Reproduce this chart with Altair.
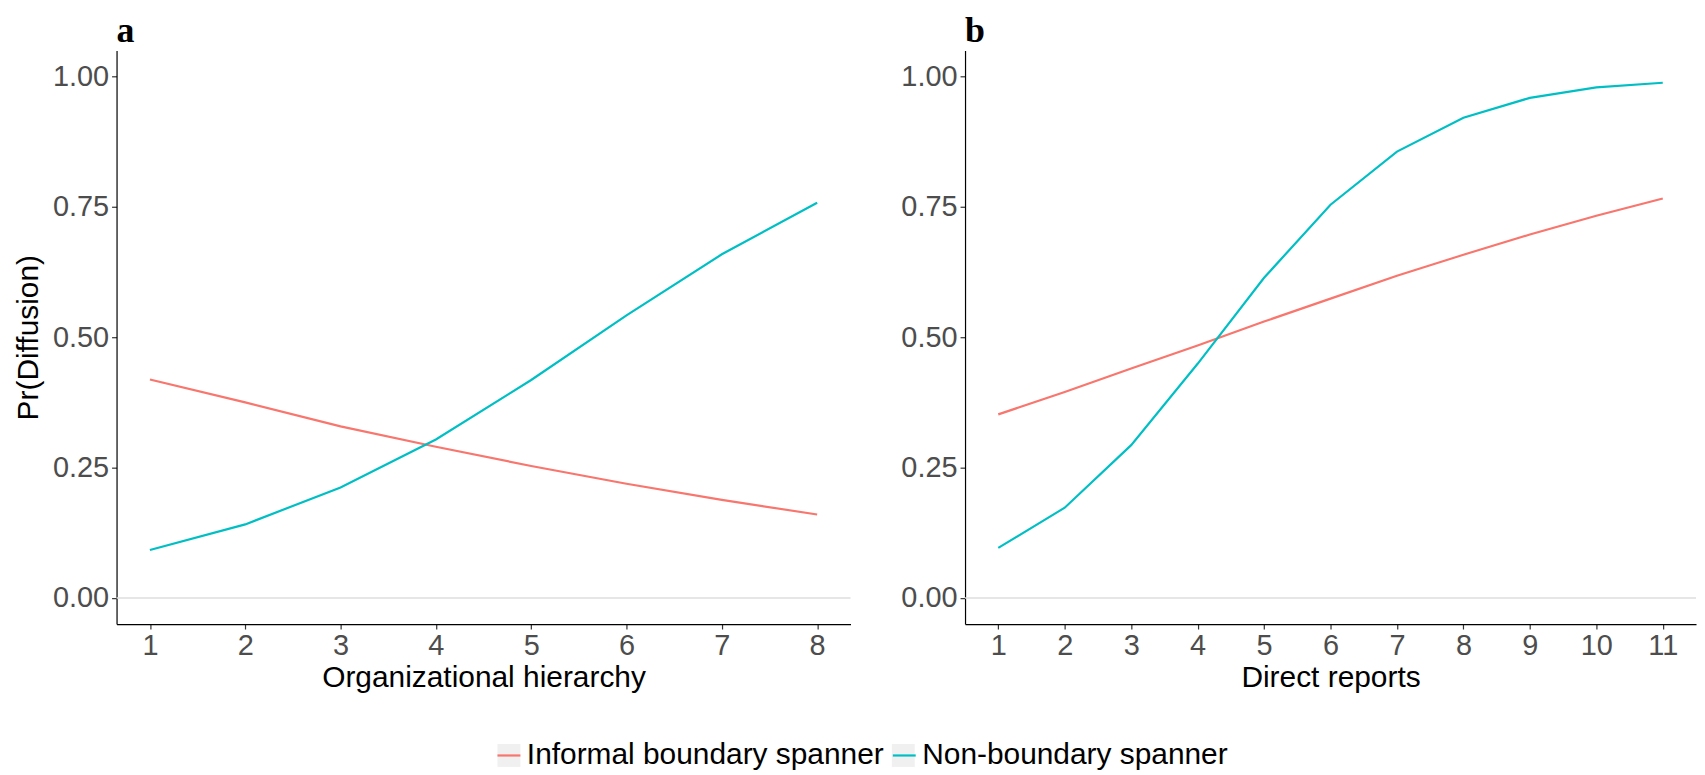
import altair as alt
import pandas as pd

# ---- data ----
hierarchy = [1, 2, 3, 4, 5, 6, 7, 8]
hier_informal = [0.419, 0.375, 0.329, 0.290, 0.253, 0.219, 0.188, 0.160]
hier_non = [0.092, 0.141, 0.212, 0.304, 0.418, 0.542, 0.659, 0.758]

reports = [1, 2, 3, 4, 5, 6, 7, 8, 9, 10, 11]
rep_informal = [0.352, 0.395, 0.440, 0.484, 0.530, 0.574, 0.618, 0.658, 0.697, 0.733, 0.766]
rep_non = [0.096, 0.173, 0.293, 0.449, 0.614, 0.754, 0.856, 0.921, 0.959, 0.979, 0.988]

groups = ["Informal boundary spanner", "Non-boundary spanner"]
colors = ["#F8766D", "#00BFC4"]
y_ticks = [0, 0.25, 0.5, 0.75, 1.0]

df_a = pd.DataFrame({
    "x": hierarchy * 2,
    "y": hier_informal + hier_non,
    "group": [groups[0]] * len(hierarchy) + [groups[1]] * len(hierarchy),
})
df_a["key"] = df_a["group"]
df_b = pd.DataFrame({
    "x": reports * 2,
    "y": rep_informal + rep_non,
    "group": [groups[0]] * len(reports) + [groups[1]] * len(reports),
})

FONT = "Liberation Sans"
LEG_X, LEG_Y = 379, 693

stroke_scale = alt.Scale(domain=groups, range=colors)
key_scale = alt.Scale(range=["#f0f0f0", "#f0f0f0"])

line_legend = alt.Legend(
    title=None, orient="none", direction="horizontal",
    legendX=LEG_X, legendY=LEG_Y,
    symbolType="stroke", symbolSize=529, symbolStrokeWidth=2.2,
    labelFont=FONT, labelFontSize=30, labelColor="black",
    columnPadding=4, labelOffset=3, labelLimit=500,
)
key_legend = alt.Legend(
    title=None, orient="none", direction="horizontal",
    legendX=LEG_X, legendY=LEG_Y,
    symbolType="square", symbolSize=529, symbolStrokeWidth=0, symbolOpacity=1,
    labelFont=FONT, labelFontSize=30, labelColor="transparent",
    columnPadding=4, labelOffset=3, labelLimit=500,
)

YSCALE = alt.Scale(domain=[-0.05, 1.05], nice=False, zero=False)


def panel(df, xvals, xdomain, xtitle, letter, ytitle, width, with_key):
    zero = alt.Chart(pd.DataFrame({"z": [0]})).mark_rule(
        color="#dedede", strokeWidth=1.5
    ).encode(y=alt.Y("z:Q", scale=YSCALE))
    if ytitle:
        yaxis = alt.Axis(values=y_ticks, format=".2f", title=ytitle, grid=False, titlePadding=9)
    else:
        yaxis = alt.Axis(values=y_ticks, format=".2f", title=None, grid=False)
    lines = alt.Chart(df).mark_line(strokeWidth=2.2).encode(
        x=alt.X("x:Q", scale=alt.Scale(domain=xdomain, nice=False, zero=False),
                axis=alt.Axis(values=xvals, format="d", title=xtitle, grid=False)),
        y=alt.Y("y:Q", scale=YSCALE, axis=yaxis),
        stroke=alt.Stroke("group:N", scale=stroke_scale, legend=line_legend),
    )
    layers = [zero, lines]
    if with_key:
        keys = alt.Chart(df).mark_square(opacity=0, size=1).encode(
            x="x:Q", y="y:Q",
            fill=alt.Fill("key:N", scale=key_scale, legend=key_legend),
        )
        layers = [zero, keys, lines]
    return alt.layer(*layers).properties(
        width=width, height=576,
        title=alt.TitleParams(letter, anchor="start", frame="group",
                              font="Liberation Serif", fontWeight="bold",
                              fontSize=36, color="black", offset=0),
    )


a = panel(df_a, hierarchy, [0.65, 8.35], "Organizational hierarchy", "a",
          "Pr(Diffusion)", 737, True)
b = panel(df_b, reports, [0.5, 11.5], "Direct reports", "b", None, 734, False)

chart = alt.hconcat(a, b, spacing=49).resolve_scale(stroke="shared", fill="shared").properties(
    padding={"left": 5, "top": 4, "right": 0, "bottom": 0}
).configure_view(stroke=None).configure_axis(
    domainColor="black", domainWidth=1.2,
    tickColor="#333333", tickSize=5, tickWidth=1.2,
    labelFont=FONT, labelFontSize=29, labelColor="#4d4d4d", labelPadding=3,
    titleFont=FONT, titleFontSize=30, titleColor="black", titleFontWeight="normal",
).configure_axisX(titlePadding=2)

chart.save("out.html", embed_options={"renderer": "svg", "actions": False})
